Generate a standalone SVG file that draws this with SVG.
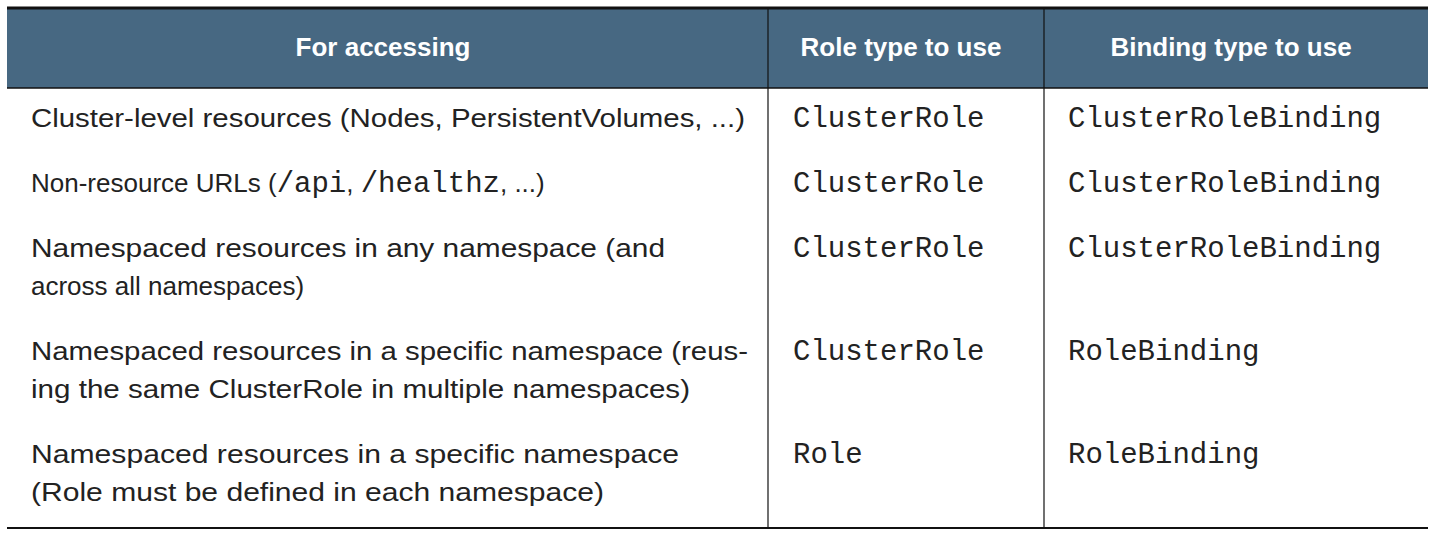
<svg xmlns="http://www.w3.org/2000/svg" width="1442" height="536" viewBox="0 0 1442 536">
<style>
.h{font-family:"Liberation Sans",Arial,sans-serif;font-weight:bold;font-size:26px;fill:#fff;text-anchor:middle}
.b{font-family:"Liberation Sans",Arial,sans-serif;font-size:26px;fill:#222}
.m{font-family:"Liberation Mono","Courier New",monospace;font-size:29px;fill:#222}
.ln{stroke:#111;fill:none}
</style>
<rect width="1442" height="536" fill="#fff"/>
<g id="header">
<rect x="7" y="9" width="1421" height="79" fill="#476882"/>
<line class="ln" x1="7" y1="8" x2="1428" y2="8" stroke-width="3"/>
<line class="ln" x1="7" y1="88" x2="1428" y2="88" stroke-width="1.5"/>
<text class="h" x="383" y="56">For accessing</text>
<text class="h" x="901" y="56">Role type to use</text>
<text class="h" x="1231" y="56">Binding type to use</text>
</g>
<g id="grid">
<line class="ln" x1="768" y1="9" x2="768" y2="528" stroke-width="1.2"/>
<line class="ln" x1="1044" y1="9" x2="1044" y2="528" stroke-width="1.2"/>
<line class="ln" x1="7" y1="528" x2="1428" y2="528" stroke-width="2"/>
</g>
<g id="row1">
<text class="b" x="31" y="127" textLength="714" lengthAdjust="spacingAndGlyphs">Cluster-level resources (Nodes, PersistentVolumes, ...)</text>
<text class="m" x="793" y="127">ClusterRole</text>
<text class="m" x="1068" y="127">ClusterRoleBinding</text>
</g>
<g id="row2">
<text class="b" x="31" y="192">Non-resource URLs (<tspan class="m">/api</tspan>, <tspan class="m">/healthz</tspan>, ...)</text>
<text class="m" x="793" y="192">ClusterRole</text>
<text class="m" x="1068" y="192">ClusterRoleBinding</text>
</g>
<g id="row3">
<text class="b" x="31" y="257" textLength="634" lengthAdjust="spacingAndGlyphs">Namespaced resources in any namespace (and</text>
<text class="b" x="31" y="295">across all namespaces)</text>
<text class="m" x="793" y="257">ClusterRole</text>
<text class="m" x="1068" y="257">ClusterRoleBinding</text>
</g>
<g id="row4">
<text class="b" x="31" y="360" textLength="717" lengthAdjust="spacingAndGlyphs">Namespaced resources in a specific namespace (reus-</text>
<text class="b" x="31" y="398" textLength="659" lengthAdjust="spacingAndGlyphs">ing the same ClusterRole in multiple namespaces)</text>
<text class="m" x="793" y="360">ClusterRole</text>
<text class="m" x="1068" y="360">RoleBinding</text>
</g>
<g id="row5">
<text class="b" x="31" y="463" textLength="648" lengthAdjust="spacingAndGlyphs">Namespaced resources in a specific namespace</text>
<text class="b" x="31" y="501" textLength="573" lengthAdjust="spacingAndGlyphs">(Role must be defined in each namespace)</text>
<text class="m" x="793" y="463">Role</text>
<text class="m" x="1068" y="463">RoleBinding</text>
</g>
</svg>
